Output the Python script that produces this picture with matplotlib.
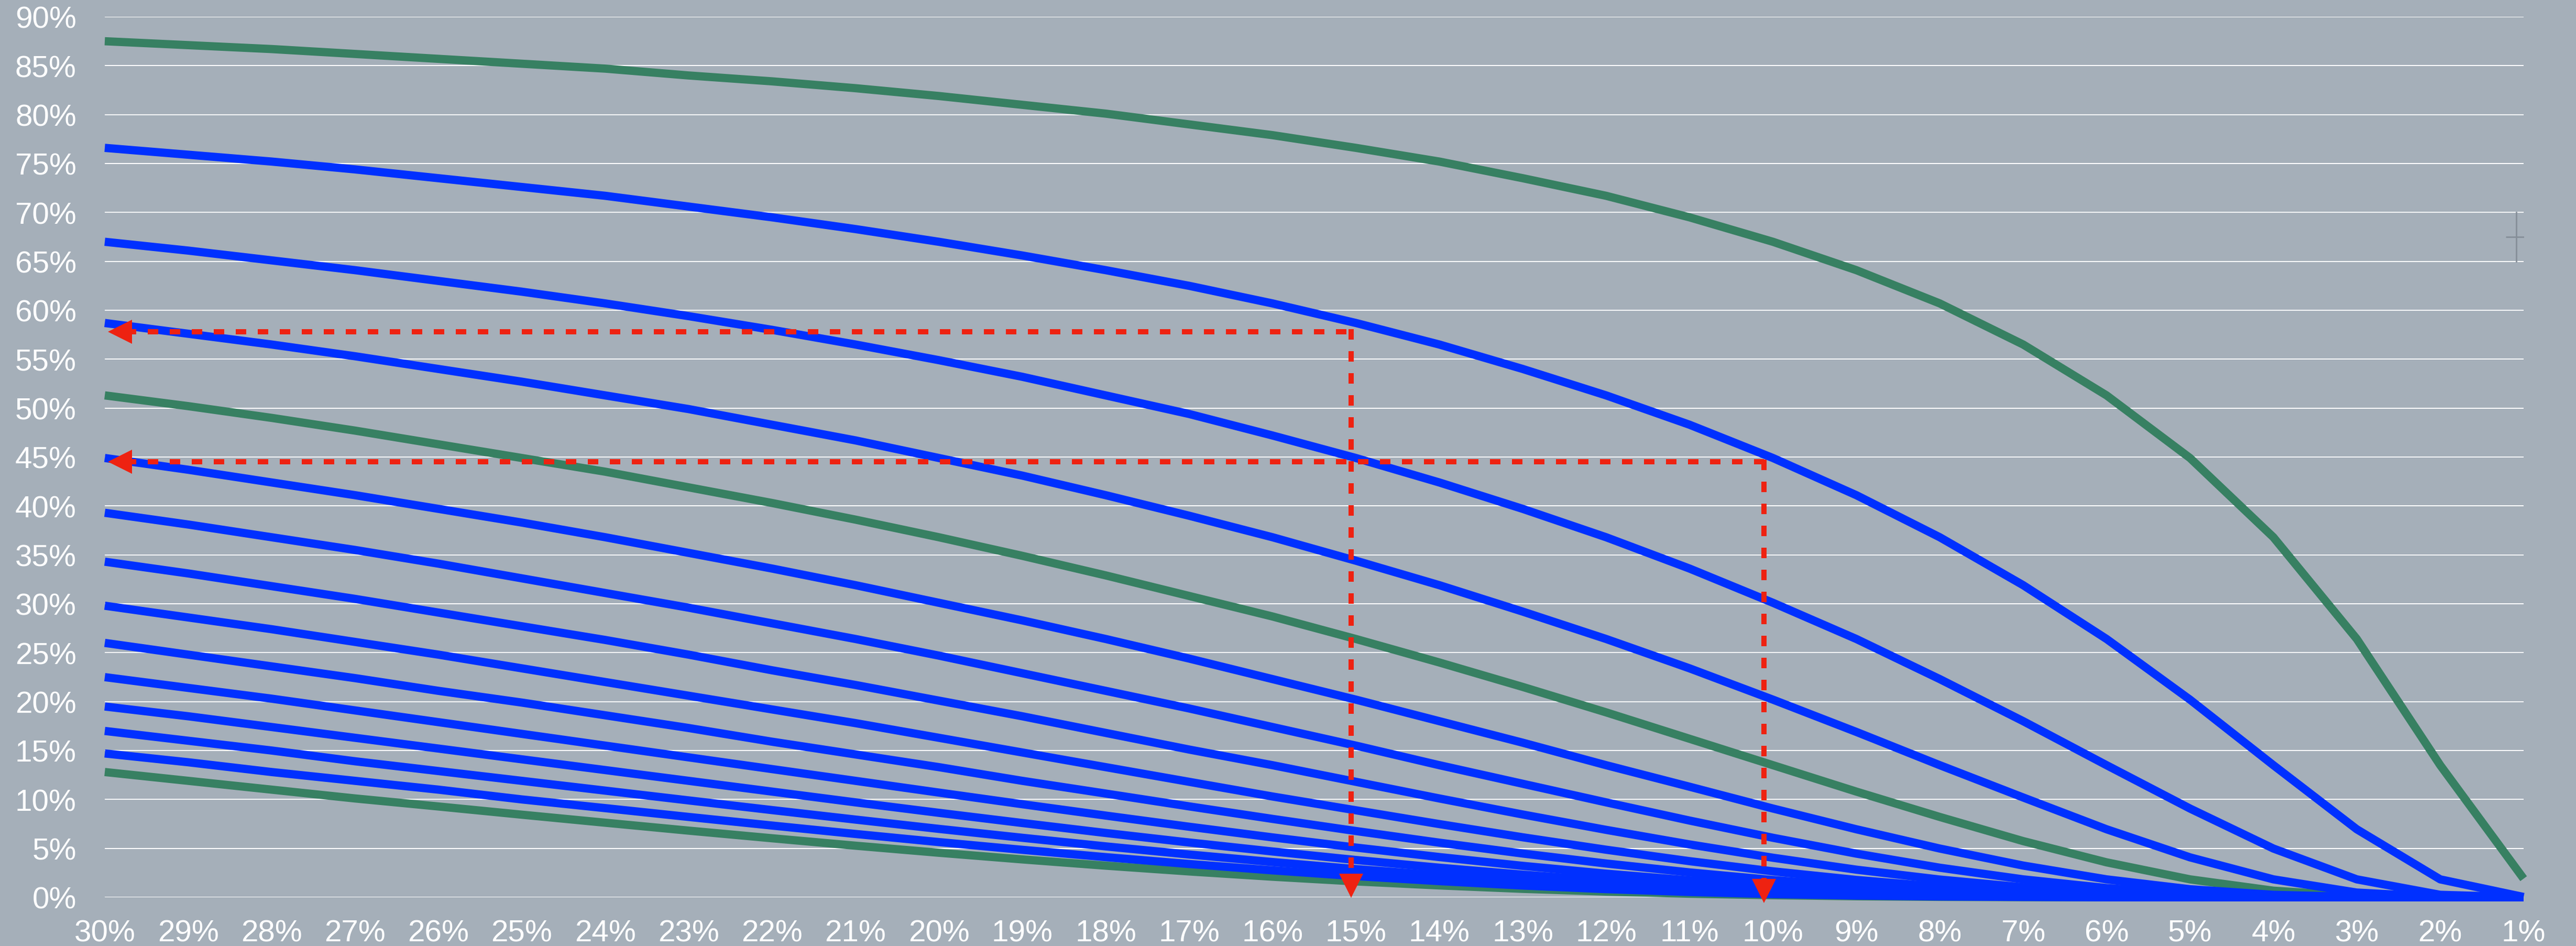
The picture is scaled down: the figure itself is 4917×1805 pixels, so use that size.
import matplotlib.pyplot as plt

# x categories (rate, %), left to right
rates = [30, 29, 28, 27, 26, 25, 24, 23, 22, 21, 20, 19, 18, 17, 16,
         15, 14, 13, 12, 11, 10, 9, 8, 7, 6, 5, 4, 3, 2, 1]
rate_labels = [str(r) + '%' for r in rates]

# curve values in % (top curve first), one list per series
s1 = [87.5, 87.1, 86.7, 86.2, 85.7, 85.2, 84.7, 84.0, 83.4, 82.7, 81.9, 81.0, 80.1, 79.0, 77.9,
      76.6, 75.2, 73.5, 71.7, 69.5, 67.0, 64.1, 60.7, 56.5, 51.3, 44.9, 36.8, 26.4, 13.5, 1.9]
s2 = [76.6, 75.9, 75.2, 74.4, 73.5, 72.6, 71.7, 70.6, 69.5, 68.3, 67.0, 65.6, 64.1, 62.5, 60.7,
      58.7, 56.5, 54.0, 51.3, 48.3, 44.9, 41.1, 36.8, 31.9, 26.4, 20.2, 13.5, 6.95, 1.83, 0.03]
s3 = [67.0, 66.1, 65.1, 64.1, 63.0, 61.9, 60.7, 59.4, 58.0, 56.5, 54.9, 53.2, 51.3, 49.4, 47.2,
      44.9, 42.4, 39.7, 36.8, 33.6, 30.1, 26.4, 22.3, 18.0, 13.5, 9.07, 4.98, 1.83, 0.25, 0.0]
s4 = [58.7, 57.6, 56.5, 55.3, 54.0, 52.7, 51.3, 49.9, 48.3, 46.7, 44.9, 43.1, 41.1, 39.0, 36.8,
      34.4, 31.9, 29.2, 26.4, 23.4, 20.2, 16.9, 13.5, 10.2, 6.95, 4.08, 1.83, 0.48, 0.03, 0.0]
s5 = [51.3, 50.2, 49.0, 47.7, 46.3, 44.9, 43.5, 41.9, 40.3, 38.6, 36.8, 34.9, 32.9, 30.8, 28.7,
      26.4, 24.0, 21.5, 18.9, 16.2, 13.5, 10.8, 8.21, 5.74, 3.57, 1.83, 0.67, 0.13, 0.0, 0.0]
s6 = [44.9, 43.7, 42.4, 41.1, 39.7, 38.3, 36.8, 35.2, 33.6, 31.9, 30.1, 28.3, 26.4, 24.4, 22.3,
      20.2, 18.0, 15.8, 13.5, 11.3, 9.07, 6.95, 4.98, 3.24, 1.83, 0.82, 0.25, 0.03, 0.0, 0.0]
s7 = [39.3, 38.1, 36.8, 35.5, 34.1, 32.6, 31.1, 29.6, 28.0, 26.4, 24.7, 22.9, 21.1, 19.3, 17.4,
      15.5, 13.5, 11.6, 9.70, 7.84, 6.08, 4.46, 3.02, 1.83, 0.94, 0.37, 0.09, 0.01, 0.0, 0.0]
s8 = [34.3, 33.1, 31.8, 30.5, 29.1, 27.7, 26.3, 24.8, 23.2, 21.7, 20.1, 18.5, 16.8, 15.1, 13.5,
      11.8, 10.1, 8.46, 6.89, 5.40, 4.04, 2.82, 1.81, 1.02, 0.47, 0.16, 0.03, 0.0, 0.0, 0.0]
s9 = [29.8, 28.6, 27.4, 26.1, 24.8, 23.4, 22.0, 20.6, 19.2, 17.8, 16.3, 14.8, 13.3, 11.8, 10.3,
      8.89, 7.48, 6.13, 4.86, 3.69, 2.65, 1.77, 1.07, 0.56, 0.24, 0.07, 0.01, 0.0, 0.0, 0.0]
s10 = [26.0, 24.8, 23.6, 22.4, 21.1, 19.9, 18.6, 17.3, 15.9, 14.6, 13.3, 11.9, 10.6, 9.29, 8.01,
       6.77, 5.58, 4.47, 3.45, 2.54, 1.76, 1.12, 0.64, 0.31, 0.12, 0.03, 0.0, 0.0, 0.0, 0.0]
s11 = [22.5, 21.4, 20.3, 19.1, 17.9, 16.7, 15.5, 14.3, 13.1, 11.9, 10.7, 9.51, 8.35, 7.21, 6.12,
       5.08, 4.11, 3.21, 2.41, 1.72, 1.14, 0.70, 0.37, 0.17, 0.06, 0.01, 0.0, 0.0, 0.0, 0.0]
s12 = [19.5, 18.5, 17.4, 16.3, 15.2, 14.1, 13.0, 11.9, 10.8, 9.70, 8.63, 7.59, 6.57, 5.60, 4.68,
       3.81, 3.02, 2.31, 1.69, 1.16, 0.74, 0.43, 0.22, 0.09, 0.03, 0.01, 0.0, 0.0, 0.0, 0.0]
s13 = [17.0, 16.0, 15.0, 13.9, 12.9, 11.9, 10.9, 9.90, 8.91, 7.94, 6.99, 6.08, 5.20, 4.37, 3.60,
       2.88, 2.24, 1.67, 1.19, 0.79, 0.49, 0.27, 0.13, 0.05, 0.01, 0.0, 0.0, 0.0, 0.0, 0.0]
s14 = [14.7, 13.8, 12.8, 11.9, 11.0, 10.0, 9.11, 8.21, 7.33, 6.47, 5.64, 4.85, 4.10, 3.40, 2.75,
       2.16, 1.65, 1.20, 0.83, 0.54, 0.32, 0.17, 0.08, 0.03, 0.01, 0.0, 0.0, 0.0, 0.0, 0.0]
s15 = [12.8, 11.9, 11.0, 10.1, 9.28, 8.44, 7.62, 6.81, 6.03, 5.27, 4.55, 3.87, 3.23, 2.64, 2.10,
       1.62, 1.21, 0.86, 0.58, 0.36, 0.21, 0.10, 0.04, 0.01, 0.0, 0.0, 0.0, 0.0, 0.0, 0.0]

series = [s1, s2, s3, s4, s5, s6, s7, s8, s9, s10, s11, s12, s13, s14, s15]
green_series = [0, 4, 14]   # the three green curves

# red guides: read-off rate -> share (as drawn, slightly left of the ticks)
guide_rate = [15.06, 10.11]
guide_share = [57.8, 44.5]
guide_tip = [0.0, -0.55]     # where the down arrows end

BG = '#A5AFB9'
BLUE = '#0030FF'
GREEN = '#378062'
RED = '#EE2211'

plt.rcParams['font.family'] = ['Liberation Sans', 'DejaVu Sans']

fig = plt.figure(figsize=(49.17, 18.06), dpi=100)
fig.patch.set_facecolor(BG)
ax = fig.add_axes([200 / 4917, 93 / 1806, 4617 / 4917, 1680 / 1806])
ax.set_facecolor(BG)

for i, s in enumerate(series):
    if i in green_series:
        ax.plot(rates, s, color=GREEN, lw=11.3, zorder=2, clip_on=False, solid_capstyle='butt')
    else:
        ax.plot(rates, s, color=BLUE, lw=11.3, zorder=3, clip_on=False, solid_capstyle='butt')

# dashed read-off lines with arrow heads
head = 32.5   # arrow head size, points
for gx, gy, tip in zip(guide_rate, guide_share, guide_tip):
    ax.plot([29.75, gx], [gy, gy], color=RED, lw=7.2, ls=(0, (2, 2.2)), zorder=5, clip_on=False)
    ax.plot([gx, gx], [gy + 0.25, tip + 2.2], color=RED, lw=7.2, ls=(0, (2, 2.2)), zorder=5,
            clip_on=False)
    ax.plot([29.82], [gy], marker='<', ms=head, color=RED, mew=0, zorder=6, clip_on=False)
    ax.plot([gx], [tip + 1.2], marker='v', ms=head, color=RED, mew=0, zorder=6, clip_on=False)

# small cross mark at the right
ax.plot([1.09, 1.09], [65, 70], color='#858E98', lw=2, zorder=1)
ax.plot([1.09], [67.5], marker='_', ms=29, mew=2, color='#858E98', zorder=1)

ax.set_xlim(30, 1)
ax.set_ylim(0, 90)
ax.set_xticks(rates)
ax.set_xticklabels(rate_labels)
yt = list(range(0, 95, 5))
ax.set_yticks(yt)
ax.set_yticklabels([str(v) + '%' for v in yt])
ax.tick_params(axis='both', length=0, labelsize=42, labelcolor='white')
ax.tick_params(axis='y', pad=39)
ax.tick_params(axis='x', pad=30)
ax.yaxis.grid(True, color='white', lw=1.4)
ax.set_axisbelow(True)
for sp in ax.spines.values():
    sp.set_visible(False)

fig.savefig('out.png', dpi=100, facecolor=BG)
